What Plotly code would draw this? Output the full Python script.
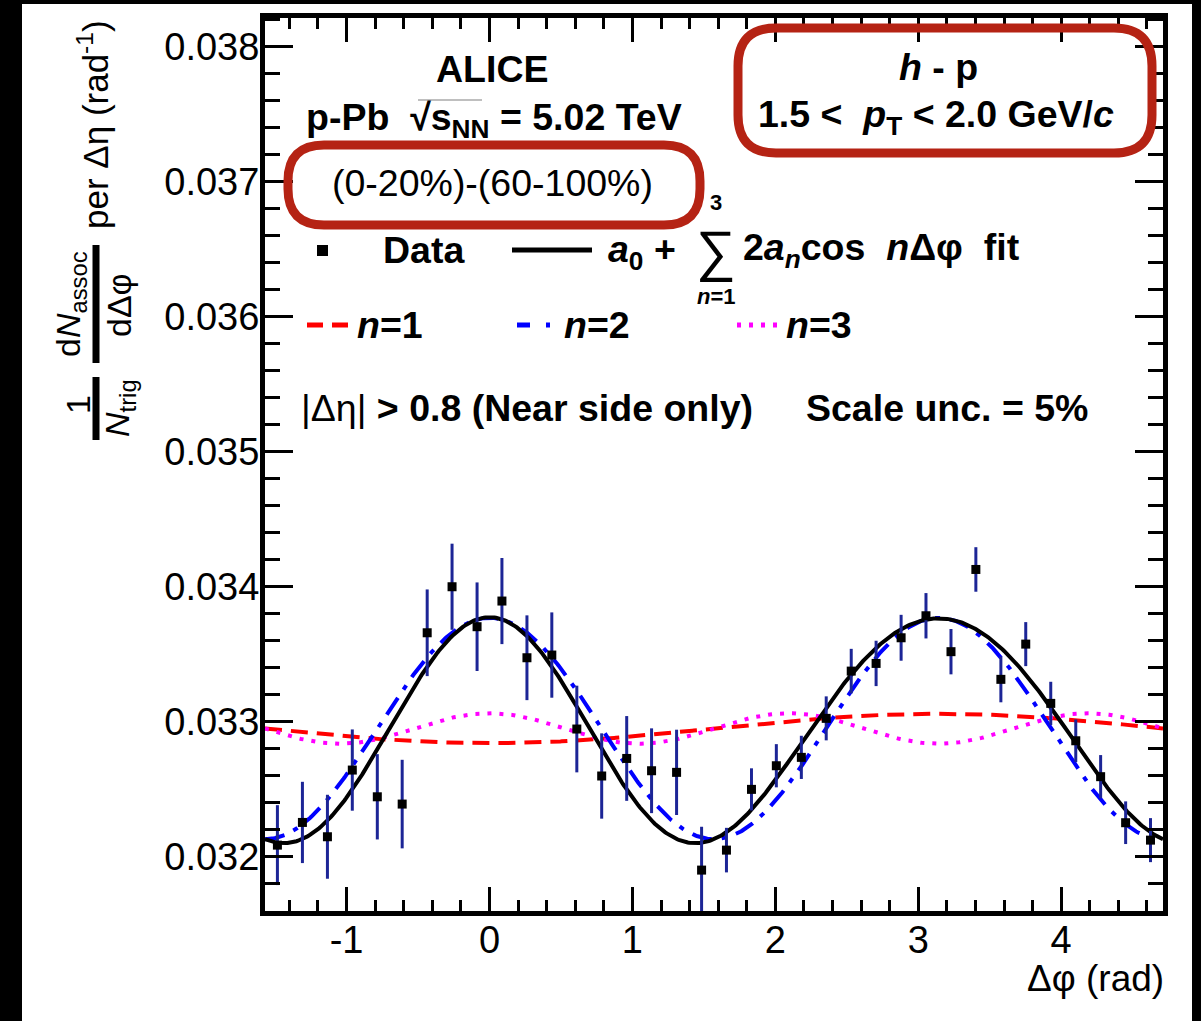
import numpy as np
import plotly.graph_objects as go

# ---------------- data ----------------
dphi = [-1.484, -1.309, -1.134, -0.960, -0.785, -0.611, -0.436, -0.262, -0.087,
        0.087, 0.262, 0.436, 0.611, 0.785, 0.960, 1.134, 1.309, 1.484,
        1.658, 1.833, 2.007, 2.182, 2.356, 2.531, 2.705, 2.880, 3.054,
        3.229, 3.403, 3.578, 3.752, 3.927, 4.102, 4.276, 4.451, 4.625]
yield_vals = [0.032086, 0.032254, 0.032148, 0.032642, 0.032444, 0.032390, 0.033659, 0.034000, 0.033704,
              0.033894, 0.033474, 0.033494, 0.032946, 0.032598, 0.032728, 0.032637, 0.032625, 0.031901,
              0.032049, 0.032499, 0.032674, 0.032736, 0.033025, 0.033375, 0.033432, 0.033622, 0.033785,
              0.033519, 0.034128, 0.033314, 0.033575, 0.033136, 0.032859, 0.032593, 0.032252, 0.032123]
yield_errs = [0.000296, 0.000301, 0.000311, 0.000301, 0.000316, 0.000328, 0.000321, 0.000319, 0.000328,
              0.000319, 0.000314, 0.000316, 0.000321, 0.000316, 0.000314, 0.000314, 0.000316, 0.000321,
              0.000165, 0.000156, 0.000160, 0.000160, 0.000163, 0.000165, 0.000168, 0.000170, 0.000168,
              0.000168, 0.000165, 0.000170, 0.000163, 0.000160, 0.000158, 0.000160, 0.000158, 0.000163]

# Fourier fit coefficients  a0 + sum 2 a_n cos(n dphi)
a0 = 0.03295
a_n = [-0.0000545, 0.00041, 0.0000565]

x_tickvals = [-1, 0, 1, 2, 3, 4]
x_ticktext = ["-1", "0", "1", "2", "3", "4"]
y_tickvals = [0.032, 0.033, 0.034, 0.035, 0.036, 0.037, 0.038]
y_ticktext = ["0.032", "0.033", "0.034", "0.035", "0.036", "0.037", "0.038"]

X_RANGE = [-np.pi / 2, 3 * np.pi / 2]
Y_RANGE = [0.031598, 0.038213]

# ---------------- geometry helpers (pixel -> paper) ----------------
W, H = 1201, 1021
L, R, T, B = 265, 38, 18, 110
PW, PH = W - L - R, H - T - B


def px(x):
    return (x - L) / PW


def py(y):
    return (H - B - y) / PH


FONT = "Liberation Sans, Arial, Helvetica, sans-serif"
FS = 37.5

grid = np.linspace(X_RANGE[0], X_RANGE[1], 600)
comp = [a0 + 2 * a_n[k] * np.cos((k + 1) * grid) for k in range(3)]
total = a0 + sum(2 * a_n[k] * np.cos((k + 1) * grid) for k in range(3))

fig = go.Figure()
fig.add_trace(go.Scatter(x=grid, y=comp[0], mode="lines",
                         line=dict(color="#ff0000", width=4, dash="17px,9px"), hoverinfo="skip"))
fig.add_trace(go.Scatter(x=grid, y=comp[2], mode="lines",
                         line=dict(color="#ff00ff", width=4, dash="4px,8px"), hoverinfo="skip"))
fig.add_trace(go.Scatter(x=grid, y=comp[1], mode="lines",
                         line=dict(color="#0000ff", width=4, dash="20px,10px,5px,10px"), hoverinfo="skip"))
fig.add_trace(go.Scatter(x=grid, y=total, mode="lines",
                         line=dict(color="black", width=4), hoverinfo="skip"))
fig.add_trace(go.Scatter(x=dphi, y=yield_vals, mode="markers",
                         marker=dict(symbol="square", size=9, color="black"),
                         error_y=dict(type="data", array=yield_errs, color="#1c2596",
                                      thickness=3, width=0)))

axis_common = dict(showgrid=False, zeroline=False, showline=True, linewidth=5,
                   linecolor="black", mirror="allticks", ticks="inside",
                   tickwidth=3, tickcolor="black",
                   tickfont=dict(family=FONT, size=38, color="black"))

fig.update_xaxes(range=X_RANGE, tickmode="array", tickvals=x_tickvals, ticktext=x_ticktext,
                 ticklen=24, ticklabelstandoff=-9,
                 minor=dict(ticks="inside", ticklen=11, tickwidth=3, tickcolor="black",
                            tickmode="linear", tick0=0, dtick=0.2),
                 **axis_common)
fig.update_yaxes(range=Y_RANGE, tickmode="array", tickvals=y_tickvals, ticktext=y_ticktext,
                 ticklen=28, ticklabelstandoff=-7,
                 minor=dict(ticks="inside", ticklen=15, tickwidth=3, tickcolor="black",
                            tickmode="linear", tick0=0, dtick=0.0002),
                 **axis_common)

ann = []


def text(x, y, s, size=FS, xanchor="center", angle=0, color="black"):
    ann.append(dict(xref="paper", yref="paper", x=px(x), y=py(y), text=s, showarrow=False,
                    xanchor=xanchor, yanchor="middle", textangle=angle,
                    font=dict(family=FONT, size=size, color=color)))


NB = "\u00a0"
text(492, 69, "<b>ALICE</b>")
text(304, 120, "<b>p-Pb" + NB + NB + "√s<sub>NN</sub> = 5.02 TeV</b>", xanchor="left")
text(492, 183, "(0-20%)-(60-100%)")
text(381, 250, "<b>Data</b>", xanchor="left")
text(606, 252, "<b><i>a</i><sub>0</sub> +</b>", xanchor="left")
text(716, 250, "∑", size=56)
text(716, 203, "<b>3</b>", size=22)
text(716, 297, "<b><i>n</i>=1</b>", size=22)
text(741, 250, "<b>2<i>a</i><sub><i>n</i></sub>cos" + NB + NB + "<i>n</i>Δφ" + NB + NB + "fit</b>",
     xanchor="left")
text(355, 325, "<b><i>n</i>=1</b>", xanchor="left")
text(562, 325, "<b><i>n</i>=2</b>", xanchor="left")
text(784, 325, "<b><i>n</i>=3</b>", xanchor="left")
text(299, 408, "|Δη| <b>> 0.8 (Near side only)</b>", xanchor="left")
text(804, 408, "<b>Scale unc. = 5%</b>", xanchor="left")
text(938, 67, "<b><i>h</i> - p</b>")
text(756, 117, "<b>1.5 <" + NB + " <i>p</i><sub>T</sub> < 2.0 GeV/<i>c</i></b>", xanchor="left")
# x axis title
text(1166, 978, "Δφ (rad)", size=37, xanchor="right")
# y axis title (rotated pieces)
text(93, 125, "per Δη (rad<sup>-1</sup>)", size=35, angle=-90)
text(71, 304, "d<i>N</i><sub>assoc</sub>", size=34, angle=-90)
text(119, 305, "dΔφ", size=34, angle=-90)
text(78, 405, "1", size=34, angle=-90)
text(119, 408, "<i>N</i><sub>trig</sub>", size=34, angle=-90)

shapes = []


def line(x0, y0, x1, y1, color="black", width=3, dash="solid"):
    shapes.append(dict(type="line", xref="paper", yref="paper", x0=px(x0), y0=py(y0),
                       x1=px(x1), y1=py(y1), line=dict(color=color, width=width, dash=dash),
                       layer="above"))


def rect(x0, y0, x1, y1, color):
    shapes.append(dict(type="rect", xref="paper", yref="paper", x0=px(x0), y0=py(y0),
                       x1=px(x1), y1=py(y1), line=dict(width=0), fillcolor=color, layer="above"))


def rrect(x0, y0, x1, y1, r, color, width):
    def P(x, y):
        return f"{px(x):.5f},{py(y):.5f}"
    path = (f"M {P(x0 + r, y0)} L {P(x1 - r, y0)} Q {P(x1, y0)} {P(x1, y0 + r)} "
            f"L {P(x1, y1 - r)} Q {P(x1, y1)} {P(x1 - r, y1)} L {P(x0 + r, y1)} "
            f"Q {P(x0, y1)} {P(x0, y1 - r)} L {P(x0, y0 + r)} Q {P(x0, y0)} {P(x0 + r, y0)} Z")
    shapes.append(dict(type="path", xref="paper", yref="paper", path=path,
                       line=dict(color=color, width=width), layer="above"))


# y-title fraction bars
line(96, 245, 96, 363, width=7)
line(96, 377, 96, 440, width=7)
# legend samples
rect(317, 245, 328, 256, "black")
line(512, 250, 592, 250, width=5)
line(307, 325, 349, 325, color="#ff0000", width=5, dash="16px,9px")
line(517, 325, 553, 325, color="#0000ff", width=5, dash="13px,16px,4px,16px")
line(737, 325, 777, 325, color="#ff00ff", width=5, dash="4px,8px")
# sqrt overline
line(418, 100, 482, 100, color="#aaaaaa", width=1.5)
# red hand-drawn boxes
rrect(288, 145, 700, 225, 36, "#b52314", 9)
rrect(738, 28, 1152, 153, 38, "#b52314", 9)
# black image border strips
rect(-5, -5, 22, H + 5, "black")
rect(-5, -5, W + 5, 4, "black")
rect(1192, -5, W + 5, H + 5, "black")

fig.update_layout(width=W, height=H, margin=dict(l=L, r=R, t=T, b=B),
                  paper_bgcolor="white", plot_bgcolor="white", showlegend=False,
                  annotations=ann, shapes=shapes)

fig.write_html("out.html", config={"displayModeBar": False},
               post_script="document.body.style.margin='0px';document.body.style.padding='0px';"
                           "document.body.style.overflow='hidden';")
